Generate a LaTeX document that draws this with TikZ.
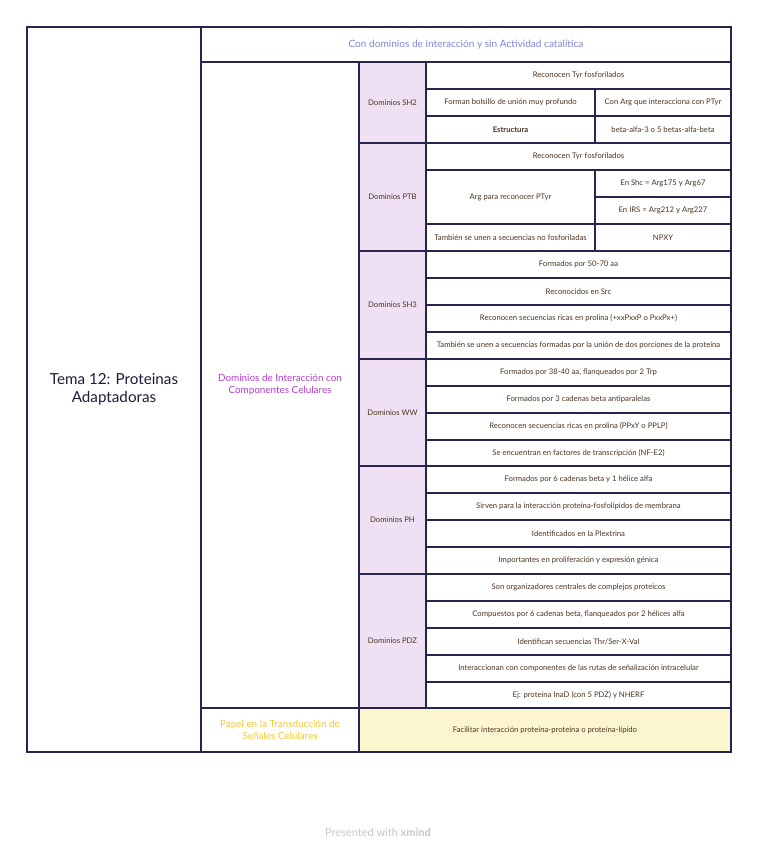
\documentclass[tikz,border=0pt]{standalone}
\usepackage{fontspec}
\setmainfont{Lato}
\definecolor{bordc}{HTML}{25254D}
\definecolor{hdrc}{HTML}{7D88D8}
\definecolor{magc}{HTML}{B43FCC}
\definecolor{yelc}{HTML}{F5C842}
\definecolor{lavc}{HTML}{EFE1F3}
\definecolor{crmc}{HTML}{FBF6CF}
\definecolor{txtc}{HTML}{4A3420}
\definecolor{ftc}{HTML}{C6C6D0}
\definecolor{ttlc}{HTML}{1D1D3A}
\tikzset{
 cellbox/.style={draw=bordc,line width=1.2pt,inner sep=1pt,outer sep=0pt,align=center,text=txtc,font=\fontsize{7.7}{9}\selectfont},
 topbox/.style={text=ttlc,font=\fontsize{15.2}{18}\selectfont},
 hdrbox/.style={text=hdrc,font=\fontsize{10.1}{12}\selectfont},
 magbox/.style={text=magc,font=\fontsize{9.9}{12}\selectfont},
 yelbox/.style={text=yelc,font=\fontsize{9.9}{12}\selectfont},
 lavbox/.style={fill=lavc},
 crmbox/.style={fill=crmc},
}
\newcommand\cell[7]{%
 \pgfmathsetmacro\cw{#4-#2}\pgfmathsetmacro\ch{#5-#3}%
 \node[cellbox,#6,minimum width=\cw pt,minimum height=\ch pt] (#1) at ({(#2+#4)/2},{(#3+#5)/2}) {#7};}
\begin{document}
\begin{tikzpicture}[x=1pt,y=-1pt]
\useasboundingbox[fill=white] (0,0) rectangle (758,848);
% column 1
\cell{tema}{27}{27}{201}{752}{topbox}{Tema 12: Proteinas\\Adaptadoras}
% header
\cell{hdr}{201}{27}{731}{62}{hdrbox}{Con dominios de interacción y sin Actividad catalítica}
% column 2
\cell{dom}{201}{62}{359}{708}{magbox}{Dominios de Interacción con\\Componentes Celulares}
\cell{pap}{201}{708}{359}{752}{yelbox}{Papel en la Transducción de\\Señales Celulares}
\cell{fac}{359}{708}{731}{752}{crmbox}{Facilitar interacción proteína-proteína o proteína-lípido}
% column 3
\cell{sh2}{359}{62}{426}{143}{lavbox}{Dominios SH2}
\cell{ptb}{359}{143}{426}{251}{lavbox}{Dominios PTB}
\cell{sh3}{359}{251}{426}{359}{lavbox}{Dominios SH3}
\cell{ww}{359}{359}{426}{466}{lavbox}{Dominios WW}
\cell{ph}{359}{466}{426}{574}{lavbox}{Dominios PH}
\cell{pdz}{359}{574}{426}{708}{lavbox}{Dominios PDZ}
% SH2
\cell{sha}{426}{62}{731}{89}{}{Reconocen Tyr fosforilados}
\cell{shb}{426}{89}{595}{116}{}{Forman bolsillo de unión muy profundo}
\cell{shc}{595}{89}{731}{116}{}{Con Arg que interacciona con PTyr}
\cell{shd}{426}{116}{595}{143}{}{\bfseries Estructura}
\cell{she}{595}{116}{731}{143}{}{beta-alfa-3 o 5 betas-alfa-beta}
% PTB
\cell{pta}{426}{143}{731}{170}{}{Reconocen Tyr fosforilados}
\cell{ptb1}{426}{170}{595}{224}{}{Arg para reconocer PTyr}
\cell{ptc}{595}{170}{731}{197}{}{En Shc = Arg175 y Arg67}
\cell{ptd}{595}{197}{731}{224}{}{En IRS = Arg212 y Arg227}
\cell{pte}{426}{224}{595}{251}{}{También se unen a secuencias no fosforiladas}
\cell{ptf}{595}{224}{731}{251}{}{NPXY}
% SH3
\cell{s3a}{426}{251}{731}{278}{}{Formados por 50-70 aa}
\cell{s3b}{426}{278}{731}{305}{}{Reconocidos en Src}
\cell{s3c}{426}{305}{731}{332}{}{Reconocen secuencias ricas en prolina (+xxPxxP o PxxPx+)}
\cell{s3d}{426}{332}{731}{359}{}{También se unen a secuencias formadas por la unión de dos porciones de la proteína}
% WW
\cell{wwa}{426}{359}{731}{386}{}{Formados por 38-40 aa, flanqueados por 2 Trp}
\cell{wwb}{426}{386}{731}{413}{}{Formados por 3 cadenas beta antiparalelas}
\cell{wwc}{426}{413}{731}{440}{}{Reconocen secuencias ricas en prolina (PPxY o PPLP)}
\cell{wwd}{426}{440}{731}{466}{}{Se encuentran en factores de transcripción (NF-E2)}
% PH
\cell{pha}{426}{466}{731}{493}{}{Formados por 6 cadenas beta y 1 hélice alfa}
\cell{phb}{426}{493}{731}{520}{}{Sirven para la interacción proteína-fosfolípidos de membrana}
\cell{phc}{426}{520}{731}{547}{}{Identificados en la Plextrina}
\cell{phd}{426}{547}{731}{574}{}{Importantes en proliferación y expresión génica}
% PDZ
\cell{pda}{426}{574}{731}{601}{}{Son organizadores centrales de complejos proteicos}
\cell{pdb}{426}{601}{731}{628}{}{Compuestos por 6 cadenas beta, flanqueados por 2 hélices alfa}
\cell{pdc}{426}{628}{731}{655}{}{Identifican secuencias Thr/Ser-X-Val}
\cell{pdd}{426}{655}{731}{682}{}{Interaccionan con componentes de las rutas de señalización intracelular}
\cell{pde}{426}{682}{731}{708}{}{Ej: proteína InaD (con 5 PDZ) y NHERF}
% footer
\node[text=ftc,font=\fontsize{11}{13}\selectfont] (foot) at (378,832) {Presented with \textbf{xmind}};
\end{tikzpicture}
\end{document}
